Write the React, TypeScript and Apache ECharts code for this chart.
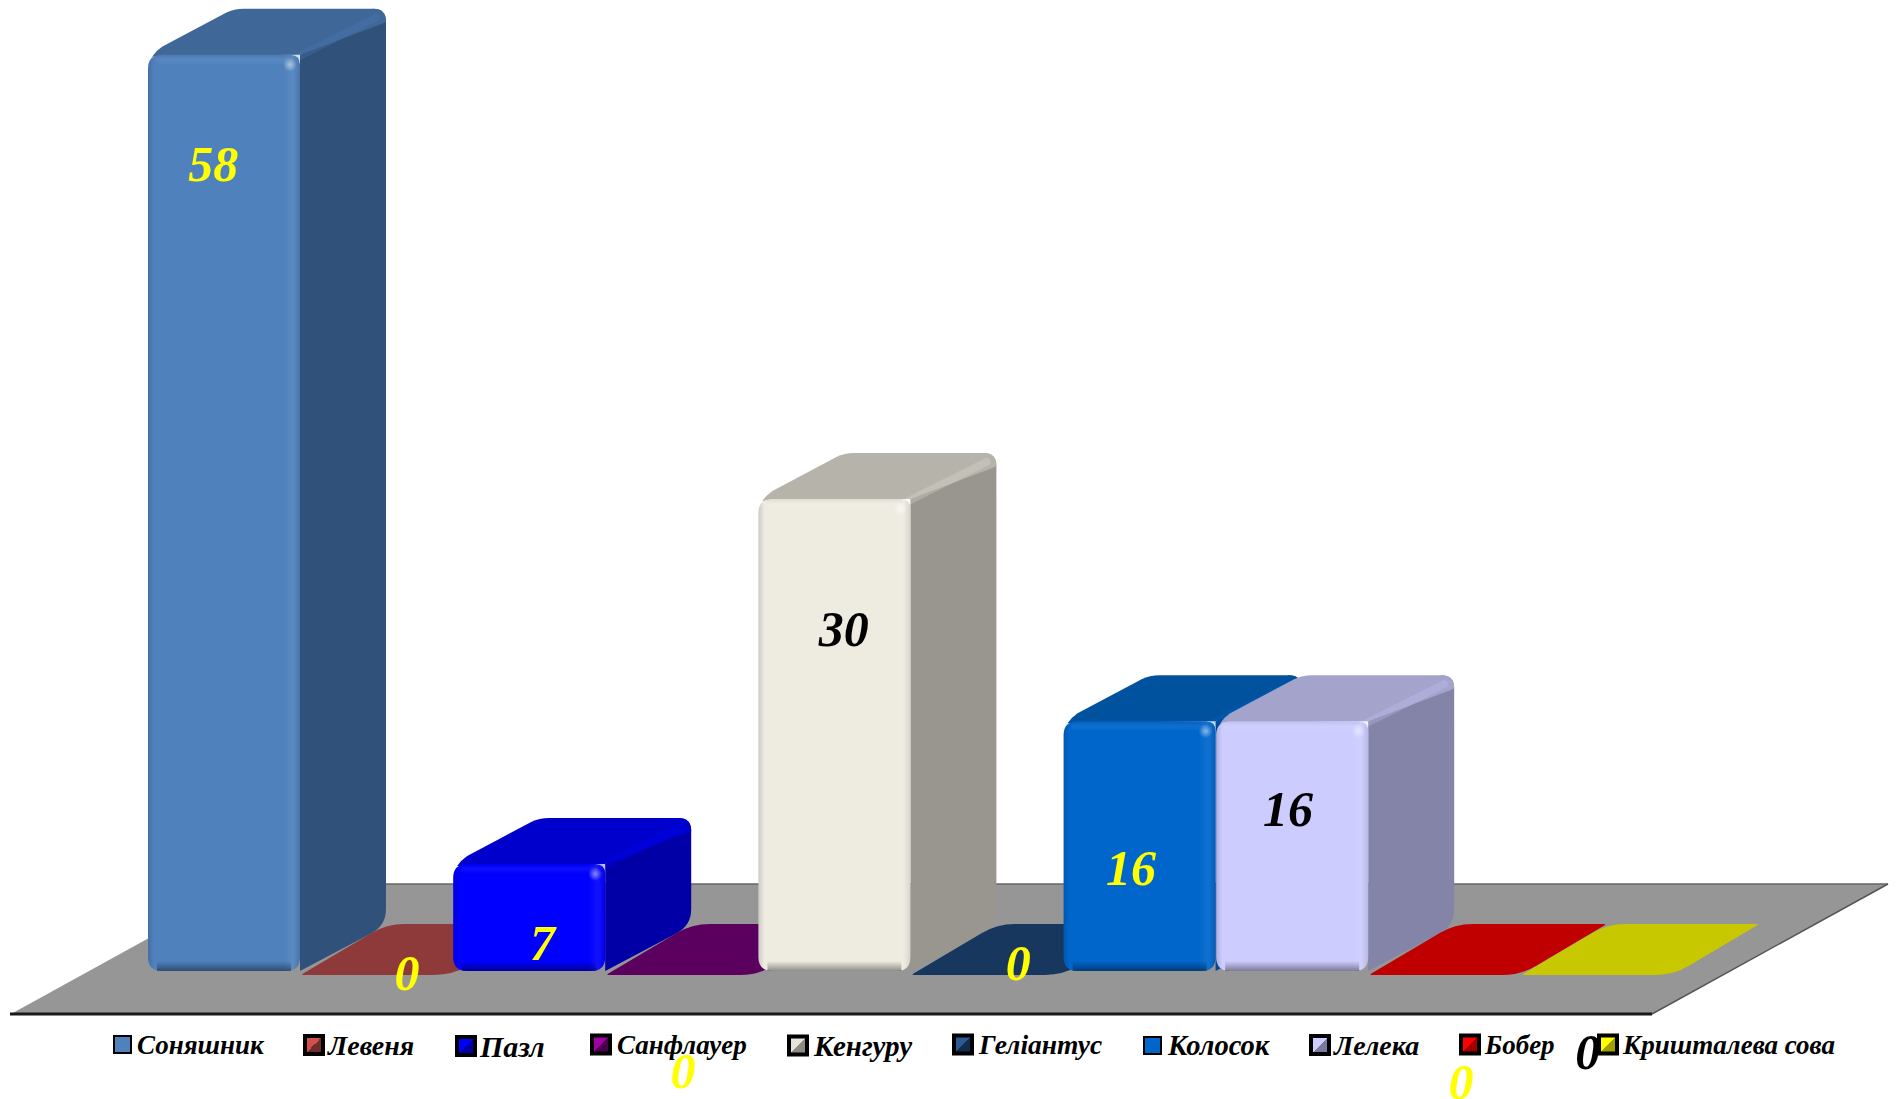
import React, { useEffect, useRef } from "react";
import * as echarts from "echarts";

const categories = ["Соняшник", "Левеня", "Пазл", "Санфлауер", "Кенгуру", "Геліантус", "Колосок", "Лелека", "Бобер", "Кришталева сова"];
const values = [58, 0, 7, 0, 30, 0, 16, 16, 0, 0];
const frontColors = ["#4f81bd", "#8f3a3a", "#0000ff", "#5c0060", "#eeece1", "#17375e", "#0066cc", "#ccccff", "#c00000", "#c8c800"];
const topColors = ["#3f6797", "#8f3a3a", "#0000cc", "#5c0060", "#b5b3aa", "#17375e", "#00529f", "#a3a3cc", "#c00000", "#c8c800"];
const sideColors = ["#30527a", "#8f3a3a", "#0000a6", "#5c0060", "#98968e", "#17375e", "#00478f", "#8484a8", "#c00000", "#c8c800"];
const labelColors = ["#ffff00", "#ffff00", "#ffff00", "#ffff00", "#000000", "#ffff00", "#ffff00", "#000000", "#ffff00", "#000000"];
const labelShiftX = [-11, 30, 13, 1, 9, 31, -9, -4.5, 16, -10];
const labelShiftY = [109, -2, 79, 96, 130, -12, 147, 88, 107, 77];
const legendOuterLeft = [112, 301, 453, 588, 785, 950, 1142, 1307, 1457, 1595];
const legendTextLeft = [136, 325, 477, 615, 812, 977, 1167, 1332, 1483, 1621];
const legendFontSize = [27, 28, 30, 27, 29, 27.5, 28.5, 28, 27, 27];
const legendFrame = [2, 4, 4, 4, 4, 4, 2, 4, 4, 4];
const legendLight = ["#4f81bd", "#d05050", "#0000ff", "#a000a8", "#e6e4d8", "#2a5a94", "#0066cc", "#ccccff", "#ff0000", "#ffff00"];
const legendDark = ["#4f81bd", "#6e2c2c", "#0000a6", "#4a004d", "#8c8a82", "#122c4c", "#0066cc", "#7a7a9c", "#a00000", "#a0a000"];

const FONT = "'Liberation Serif', serif";
const DX = 86;
const DY = 46;
const FOOT = 4;
const BACK_R = 13;

function roundPoly(pts: number[][], radii: number[]) {
  const n = pts.length;
  let d = "";
  for (let i = 0; i < n; i++) {
    const p = pts[i];
    const a = pts[(i + n - 1) % n];
    const b = pts[(i + 1) % n];
    const r = radii[i];
    const la = Math.hypot(a[0] - p[0], a[1] - p[1]) || 1;
    const lb = Math.hypot(b[0] - p[0], b[1] - p[1]) || 1;
    const ra = Math.min(r, la / 2);
    const rb = Math.min(r, lb / 2);
    const s = [p[0] + ((a[0] - p[0]) * ra) / la, p[1] + ((a[1] - p[1]) * ra) / la];
    const e = [p[0] + ((b[0] - p[0]) * rb) / lb, p[1] + ((b[1] - p[1]) * rb) / lb];
    d += `${i === 0 ? "M" : "L"}${s[0]} ${s[1]} Q${p[0]} ${p[1]} ${e[0]} ${e[1]} `;
  }
  return d + "Z";
}

function hexRgba(hex: string, a: number) {
  const v = parseInt(hex.slice(1), 16);
  return `rgba(${(v >> 16) & 255},${(v >> 8) & 255},${v & 255},${a})`;
}

function makeRenderItem(i: number) {
  return (_params: any, api: any) => {
    const value = api.value(1);
    const [cx, yTop] = api.coord([api.value(0), value]);
    const [, yZero] = api.coord([api.value(0), 0]);
    const band = api.size([1, 0])[0];
    const x0 = cx - band / 2;
    const x1 = x0 + band - 0.6;
    const children: any[] = [];
    if (value > 0) {
      const yBase = yZero - FOOT;
      const front = frontColors[i];
      const frontPath = roundPoly([[x0, yTop], [x1, yTop], [x1, yBase], [x0, yBase]], [14, 10, 14, 14]);
      const bx = x1 + DX;
      const by = yTop - DY;
      // full side face: shares the back corner with the top face
      children.push({
        type: "path",
        shape: {
          pathData:
            `M${x1} ${yTop} L${bx - BACK_R} ${by} Q${bx} ${by} ${bx} ${by + BACK_R} ` +
            `L${bx} ${yBase - DY - 16} Q${bx} ${yBase - DY} ${bx - 14} ${yBase - DY + 8} L${x1} ${yBase} Z`,
        },
        style: { fill: sideColors[i] },
      });
      // top face, its outline following the same rounded back corner
      children.push({
        type: "path",
        shape: {
          pathData:
            `M${x0 + 4} ${yTop + 2} Q${x0 + 8} ${yTop - 4} ${x0 + 14} ${yTop - 8} ` +
            `L${x0 + DX - 8} ${by + 4} Q${x0 + DX} ${by} ${x0 + DX + 10} ${by} ` +
            `L${bx - BACK_R} ${by} Q${bx} ${by} ${bx} ${by + BACK_R} ` +
            `L${bx - 4} ${by + BACK_R + 2} L${x1} ${yTop} Z`,
        },
        style: { fill: topColors[i] },
      });
      children.push({
        type: "line",
        shape: { x1: x1 - 2, y1: yTop + 2, x2: bx - 10, y2: by + 9 },
        style: { stroke: hexRgba(front, 0.25), lineWidth: 8, lineCap: "round" },
      });
      children.push({ type: "path", shape: { pathData: frontPath }, style: { fill: front } });
      children.push({
        type: "path",
        shape: { pathData: frontPath },
        style: {
          fill: new echarts.graphic.LinearGradient(0, 0, 1, 0, [
            { offset: 0, color: "rgba(0,0,0,0.14)" },
            { offset: 0.04, color: "rgba(0,0,0,0)" },
            { offset: 0.89, color: "rgba(255,255,255,0)" },
            { offset: 0.95, color: "rgba(255,255,255,0.07)" },
            { offset: 1, color: "rgba(0,0,0,0.1)" },
          ]),
        },
      });
      children.push({
        type: "rect",
        shape: { x: x0 + 8, y: yTop, width: x1 - x0 - 16, height: 10 },
        style: {
          fill: new echarts.graphic.LinearGradient(0, 0, 0, 1, [
            { offset: 0, color: "rgba(0,0,0,0.06)" },
            { offset: 0.5, color: "rgba(255,255,255,0.06)" },
            { offset: 1, color: "rgba(255,255,255,0)" },
          ]),
        },
      });
      children.push({
        type: "rect",
        shape: { x: x0 + 9, y: yBase - 10, width: x1 - x0 - 18, height: 10 },
        style: {
          fill: new echarts.graphic.LinearGradient(0, 0, 0, 1, [
            { offset: 0, color: "rgba(0,0,0,0)" },
            { offset: 1, color: "rgba(0,0,0,0.4)" },
          ]),
        },
      });
      children.push({
        type: "circle",
        shape: { cx: x1 - 10, cy: yTop + 10, r: 7 },
        style: {
          fill: new echarts.graphic.RadialGradient(0.5, 0.5, 0.5, [
            { offset: 0, color: "rgba(255,255,255,0.5)" },
            { offset: 1, color: "rgba(255,255,255,0)" },
          ]),
        },
      });
    } else {
      const pts: number[][] = [[x0, yZero], [x0 + DX, yZero - 51], [x1 + DX, yZero - 51], [x1, yZero]];
      children.push({
        type: "path",
        shape: { pathData: roundPoly(pts, [3, 18, 3, 18]) },
        style: { fill: frontColors[i] },
      });
    }
    children.push({
      type: "text",
      z2: 100,
      style: {
        text: String(value),
        x: cx + labelShiftX[i],
        y: yTop + labelShiftY[i],
        align: "center",
        verticalAlign: "middle",
        fill: labelColors[i],
        font: `italic bold 50px ${FONT}`,
      },
    });
    return { type: "group", children };
  };
}

export default function App() {
  const ref = useRef<HTMLDivElement>(null);
  useEffect(() => {
    const chart = echarts.init(ref.current!, undefined, { renderer: "svg" });
    chart.setOption({
      animation: false,
      backgroundColor: "#ffffff",
      grid: { left: 148, width: 1526, top: 23, height: 952, containLabel: false },
      xAxis: { type: "category", data: categories, show: false },
      yAxis: { type: "value", min: 0, max: 60, show: false },
      legend: categories.map((name, i) => {
        const frame = legendFrame[i];
        const size = frame === 2 ? 17 : 18;
        const left = legendOuterLeft[i] + frame / 2;
        return {
          left,
          top: 1031,
          padding: 0,
          itemWidth: size,
          itemHeight: size,
          data: [
            {
              name,
              icon: "rect",
              itemStyle: {
                color: new echarts.graphic.LinearGradient(0, 0, 1, 1, [
                  { offset: 0, color: legendLight[i] },
                  { offset: 0.5, color: legendLight[i] },
                  { offset: 0.5, color: legendDark[i] },
                  { offset: 1, color: legendDark[i] },
                ]),
                borderColor: "#000000",
                borderWidth: frame,
              },
            },
          ],
          textStyle: {
            fontFamily: FONT,
            fontStyle: "italic",
            fontWeight: "bold",
            fontSize: legendFontSize[i],
            color: "#000000",
            padding: [0, 0, 0, Math.max(0, legendTextLeft[i] - (left + size + 5))],
          },
          selectedMode: false,
        };
      }),
      graphic: [
        {
          type: "polygon",
          z: -10,
          shape: { points: [[11, 1014], [1652, 1014], [1888, 884], [247, 884]] },
          style: { fill: "#969696" },
        },
        {
          type: "line",
          z: -9,
          shape: { x1: 10, y1: 1014, x2: 1652, y2: 1014 },
          style: { stroke: "#1a1a1a", lineWidth: 3 },
        },
        {
          type: "line",
          z: -9,
          shape: { x1: 247, y1: 884, x2: 1888, y2: 884 },
          style: { stroke: "#666666", lineWidth: 1.5 },
        },
        {
          type: "line",
          z: -9,
          shape: { x1: 1652, y1: 1014, x2: 1888, y2: 884 },
          style: { stroke: "#555555", lineWidth: 1.5 },
        },
      ],
      series: categories.map((name, i) => ({
        type: "custom",
        name,
        data: [[i, values[i]]],
        encode: { x: 0, y: 1 },
        clip: false,
        renderItem: makeRenderItem(i),
      })),
    });
    return () => chart.dispose();
  }, []);
  return <div ref={ref} style={{ position: "absolute", left: 0, top: 0, width: 1896, height: 1099 }} />;
}
